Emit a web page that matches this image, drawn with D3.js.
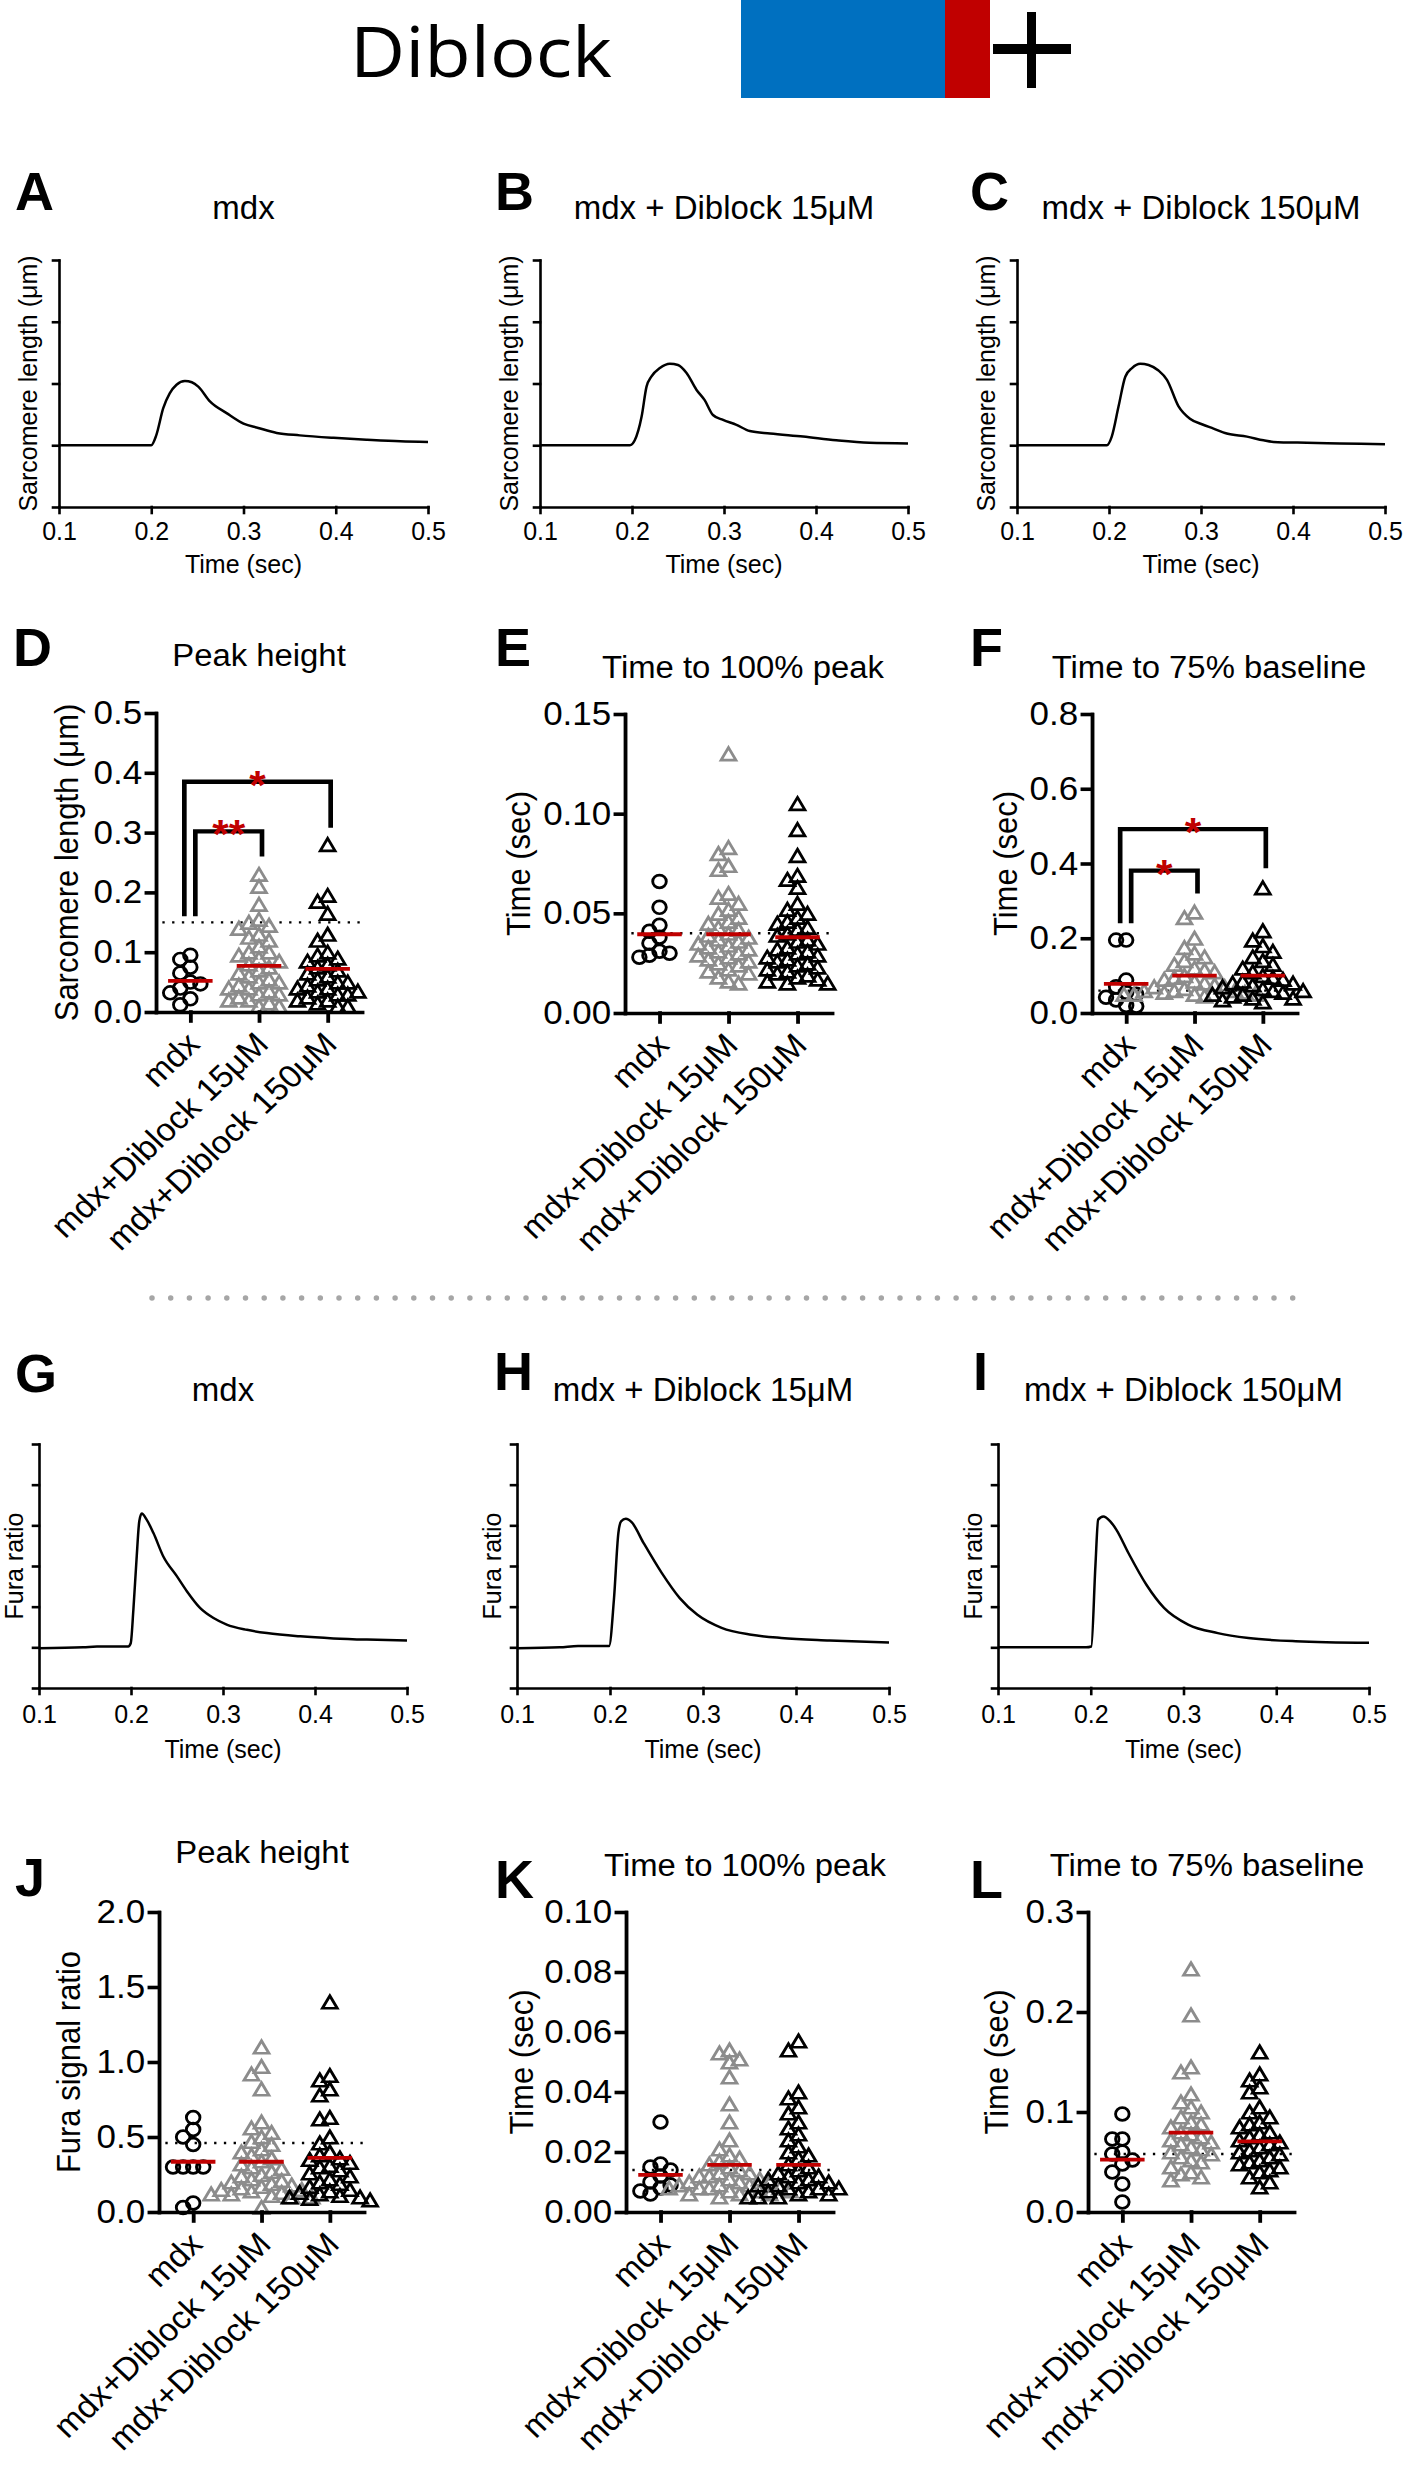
<!DOCTYPE html>
<html><head><meta charset="utf-8">
<script src="https://cdn.jsdelivr.net/npm/d3@7"></script>
<style>
body{margin:0;background:#fff}
svg text{font-family:"Liberation Sans",Arial,Helvetica,sans-serif;fill:#000}
</style>
</head><body>
<svg id="fig" width="1404" height="2480"></svg>
<script>
// ---------------- DATA ----------------
const timeTicks = [0.1, 0.2, 0.3, 0.4, 0.5];
const groups = ["mdx", "mdx+Diblock 15μM", "mdx+Diblock 150μM"];

// Sarcomere length traces (arbitrary units, one unit per y tick)
const traceA_t = [0.100,0.150,0.200,0.2054,0.213,0.220,0.2274,0.2365,0.244,0.251,0.2636,0.2817,0.300,0.316,0.336,0.361,0.3976,0.434,0.470,0.500];
const traceA_v = [1.00,1.00,1.00,1.16,1.60,1.84,1.98,2.04,2.02,1.95,1.71,1.52,1.35,1.28,1.20,1.16,1.12,1.09,1.065,1.054];
const traceB_t = [0.100,0.150,0.1977,0.203,0.2104,0.2158,0.221,0.2303,0.2412,0.250,0.2593,0.270,0.279,0.288,0.299,0.3136,0.328,0.350,0.386,0.422,0.458,0.500];
const traceB_v = [1.00,1.00,1.00,1.08,1.46,1.95,2.11,2.25,2.32,2.30,2.17,1.90,1.73,1.49,1.41,1.33,1.23,1.19,1.14,1.08,1.04,1.03];
const traceC_t = [0.100,0.150,0.1977,0.203,0.2104,0.2177,0.225,0.234,0.243,0.2538,0.263,0.2756,0.288,0.301,0.3136,0.328,0.350,0.368,0.3787,0.415,0.451,0.500];
const traceC_v = [1.00,1.00,1.00,1.14,1.63,2.11,2.25,2.32,2.30,2.21,2.06,1.63,1.43,1.34,1.27,1.19,1.14,1.08,1.054,1.04,1.03,1.016];
// Fura ratio traces
const traceG_t = [0.100,0.148,0.163,0.197,0.1997,0.2026,0.206,0.209,0.2117,0.217,0.2244,0.235,0.2498,0.2607,0.275,0.2897,0.304,0.326,0.3477,0.384,0.420,0.4565,0.500];
const traceG_v = [0.98,1.00,1.02,1.02,1.10,1.93,3.16,4.10,4.29,4.14,3.81,3.24,2.75,2.38,1.97,1.72,1.56,1.43,1.35,1.27,1.22,1.19,1.17];
const traceH_t = [0.100,0.146,0.1656,0.199,0.2042,0.209,0.2119,0.217,0.2235,0.236,0.2556,0.275,0.294,0.320,0.352,0.384,0.436,0.500];
const traceH_v = [0.98,1.00,1.03,1.03,2.17,3.81,4.10,4.16,4.07,3.57,2.83,2.21,1.80,1.48,1.31,1.23,1.17,1.12];
const traceI_t = [0.100,0.195,0.2006,0.205,0.208,0.2135,0.221,0.2277,0.2406,0.260,0.279,0.305,0.337,0.370,0.421,0.500];
const traceI_v = [1.00,1.00,1.02,2.99,4.14,4.22,4.10,3.89,3.32,2.54,1.97,1.56,1.35,1.23,1.15,1.11];

// D: sarcomere peak height (µm)
const peakSL_mdx = [0.095,0.088,0.075,0.065,0.050,0.047,0.040,0.032,0.022,0.012];
const peakSL_15  = [0.23,0.21,0.18,0.155,0.15,0.145,0.14,0.13,0.125,0.12,0.11,0.10,0.10,0.095,0.09,0.085,0.08,0.075,0.07,0.065,0.06,0.055,0.05,0.05,0.045,0.04,0.04,0.035,0.03,0.03,0.025,0.02,0.02,0.015,0.01,0.01];
const peakSL_150 = [0.28,0.195,0.185,0.165,0.13,0.12,0.10,0.095,0.09,0.085,0.08,0.075,0.07,0.065,0.06,0.055,0.05,0.05,0.045,0.04,0.04,0.035,0.035,0.03,0.03,0.025,0.02,0.02,0.015,0.01,0.01];
const peakSL_means = [0.052,0.077,0.072];
const peakSL_ref = 0.15;
const peakSL_ticks = [0,0.1,0.2,0.3,0.4,0.5];
const peakSL_sig = [{from:0,to:1,level:0.302,legL:0.16,legR:0.26,label:"**"},{from:0,to:2,level:0.385,legL:0.16,legR:0.308,label:"*"}];

// E: time to 100% peak (sec)
const ttpSL_mdx = [0.066,0.053,0.044,0.041,0.038,0.035,0.031,0.030,0.029,0.028];
const ttpSL_15  = [0.13,0.083,0.080,0.074,0.072,0.060,0.058,0.055,0.052,0.050,0.048,0.046,0.045,0.043,0.042,0.040,0.039,0.038,0.037,0.036,0.035,0.034,0.033,0.032,0.031,0.030,0.029,0.028,0.027,0.026,0.025,0.024,0.022,0.021,0.020,0.018,0.016,0.015];
const ttpSL_150 = [0.105,0.092,0.079,0.069,0.067,0.063,0.055,0.052,0.050,0.048,0.046,0.045,0.043,0.042,0.040,0.039,0.037,0.036,0.035,0.033,0.032,0.031,0.030,0.029,0.028,0.027,0.026,0.025,0.024,0.023,0.022,0.021,0.020,0.019,0.018,0.017,0.016,0.015,0.015];
const ttpSL_means = [0.0395,0.0395,0.038];
const ttpSL_ref = 0.040;
const ttpSL_ticks = [0,0.05,0.10,0.15];

// F: time to 75% baseline (sec)
const t75SL_mdx = [0.195,0.195,0.088,0.070,0.055,0.050,0.042,0.035,0.020,0.018];
const t75SL_15  = [0.27,0.255,0.20,0.175,0.16,0.15,0.14,0.13,0.12,0.115,0.11,0.10,0.095,0.09,0.085,0.08,0.075,0.07,0.07,0.065,0.06,0.06,0.06,0.055,0.055,0.05,0.05,0.05,0.05,0.045];
const t75SL_150 = [0.335,0.22,0.195,0.18,0.165,0.15,0.14,0.13,0.12,0.11,0.10,0.095,0.09,0.085,0.08,0.08,0.075,0.07,0.065,0.06,0.06,0.055,0.05,0.05,0.045,0.04,0.04,0.035,0.03];
const t75SL_means = [0.078,0.10,0.10];
const t75SL_ref = 0.06;
const t75SL_ticks = [0,0.2,0.4,0.6,0.8];
const t75SL_sig = [{from:0,to:1,level:0.381,legL:0.24,legR:0.32,label:"*"},{from:0,to:2,level:0.492,legL:0.24,legR:0.387,label:"*"}];

// J: Fura peak height
const peakCa_mdx = [0.63,0.55,0.50,0.45,0.30,0.30,0.30,0.30,0.06,0.03];
const peakCa_15  = [1.10,0.97,0.92,0.82,0.60,0.56,0.53,0.50,0.47,0.45,0.42,0.40,0.38,0.36,0.34,0.32,0.30,0.29,0.27,0.25,0.24,0.22,0.21,0.20,0.19,0.18,0.17,0.16,0.15,0.15,0.14,0.13,0.12,0.12,0.11,0.10,0.10,0.03];
const peakCa_150 = [1.40,0.91,0.88,0.82,0.78,0.63,0.62,0.50,0.46,0.40,0.38,0.36,0.35,0.33,0.31,0.30,0.28,0.26,0.24,0.22,0.20,0.19,0.17,0.15,0.14,0.13,0.12,0.11,0.10,0.10,0.09,0.08];
const peakCa_means = [0.335,0.335,0.361];
const peakCa_ref = 0.46;
const peakCa_ticks = [0,0.5,1.0,1.5,2.0];

// K: Fura time to 100% peak (sec)
const ttpCa_mdx = [0.030,0.016,0.015,0.014,0.012,0.010,0.009,0.008,0.007,0.006];
const ttpCa_15  = [0.054,0.053,0.051,0.050,0.045,0.036,0.030,0.024,0.021,0.019,0.018,0.017,0.016,0.015,0.014,0.013,0.013,0.012,0.012,0.011,0.011,0.010,0.010,0.010,0.009,0.009,0.009,0.008,0.008,0.008,0.008,0.007,0.007,0.007,0.006,0.006,0.006,0.005];
const ttpCa_150 = [0.057,0.054,0.040,0.038,0.035,0.033,0.030,0.028,0.026,0.024,0.022,0.020,0.019,0.018,0.016,0.015,0.014,0.013,0.012,0.012,0.011,0.011,0.010,0.010,0.009,0.009,0.008,0.008,0.008,0.007,0.007,0.006,0.006,0.005,0.005,0.005];
const ttpCa_means = [0.0124,0.0157,0.0157];
const ttpCa_ref = 0.014;
const ttpCa_ticks = [0,0.02,0.04,0.06,0.08,0.10];

// L: Fura time to 75% baseline (sec)
const t75Ca_mdx = [0.098,0.073,0.073,0.060,0.058,0.052,0.048,0.040,0.028,0.010];
const t75Ca_15  = [0.243,0.197,0.145,0.14,0.118,0.11,0.105,0.10,0.095,0.09,0.088,0.085,0.08,0.078,0.075,0.072,0.07,0.068,0.065,0.063,0.06,0.058,0.055,0.052,0.05,0.045,0.04,0.038,0.035,0.032];
const t75Ca_150 = [0.16,0.138,0.132,0.125,0.12,0.105,0.10,0.095,0.09,0.088,0.085,0.08,0.078,0.075,0.072,0.07,0.068,0.065,0.062,0.06,0.058,0.055,0.052,0.05,0.048,0.045,0.042,0.04,0.035,0.03,0.025];
const t75Ca_means = [0.0523,0.0794,0.0706];
const t75Ca_ref = 0.058;
const t75Ca_ticks = [0,0.1,0.2,0.3];

// ---------------- DRAWING ----------------
const svg = d3.select("#fig");
const RED = "#c00000", GRAY = "#8c8c8c", BLUE = "#0070c0";

// header
svg.append("text").attr("x", 612).attr("y", 77).attr("text-anchor", "end")
  .style("font-family", "'Open Sans', sans-serif").attr("font-size", 70)
  .attr("textLength", 262).attr("lengthAdjust", "spacingAndGlyphs").text("Diblock");
svg.append("rect").attr("x", 741).attr("y", 0).attr("width", 204).attr("height", 98).attr("fill", BLUE);
svg.append("rect").attr("x", 945).attr("y", 0).attr("width", 45).attr("height", 98).attr("fill", RED);
svg.append("rect").attr("x", 993).attr("y", 44).attr("width", 78).attr("height", 10).attr("fill", "#000");
svg.append("rect").attr("x", 1027).attr("y", 12).attr("width", 9).attr("height", 76).attr("fill", "#000");

function letter(t, x, y) {
  svg.append("text").attr("x", x).attr("y", y).attr("font-size", 54).attr("font-weight", "bold").text(t);
}

function tracePanel(L, t, v, yMax) {
  const x = d3.scaleLinear().domain([0.1, 0.5]).range([L.x0, L.x1]);
  const y = d3.scaleLinear().domain([0, yMax]).range([L.yBot, L.yTop]);
  const g = svg.append("g");
  const xa = g.append("g").attr("transform", `translate(0,${L.yBot})`)
    .call(d3.axisBottom(x).tickValues(timeTicks).tickFormat(d3.format(".1f")).tickSize(6).tickSizeOuter(0).tickPadding(L.tp));
  g.append("g").attr("transform", `translate(${L.x0},0)`)
    .call(d3.axisLeft(y).tickValues(d3.range(0, yMax + 1)).tickFormat("").tickSize(6).tickSizeOuter(0));
  g.selectAll(".domain,.tick line").attr("stroke", "#000").attr("stroke-width", 2.6).attr("stroke-linecap", "square");
  xa.selectAll("text").attr("font-size", 25).attr("fill", "#000").style("font-family", null);
  g.append("path").datum(t.map((d, i) => [d, v[i]]))
    .attr("fill", "none").attr("stroke", "#000").attr("stroke-width", 2.5).attr("stroke-linejoin", "round")
    .attr("d", d3.line().x(d => x(d[0])).y(d => y(d[1])).curve(d3.curveMonotoneX));
  const cx = (L.x0 + L.x1) / 2;
  g.append("text").attr("x", cx).attr("y", L.titleY).attr("text-anchor", "middle").attr("font-size", 33).text(L.title);
  g.append("text").attr("x", cx).attr("y", L.yBot + L.xtOff).attr("text-anchor", "middle").attr("font-size", 25).text("Time (sec)");
  g.append("text").attr("transform", `translate(${L.x0 - L.ylOff},${(L.yTop + L.yBot) / 2}) rotate(-90)`)
    .attr("dy", "0.36em").attr("text-anchor", "middle").attr("font-size", 25).text(L.ylabel);
  letter(L.letter, L.lx, L.ly);
}

function swarm(vals, cx, y, step, hgap) {
  const placed = [];
  vals.slice().sort((a, b) => b - a).forEach(v => {
    const py = y(v);
    for (let k = 0; k < 60; k++) {
      const off = (k === 0 ? 0 : (k % 2 ? -1 : 1) * Math.ceil(k / 2)) * step;
      const px = cx + off;
      if (!placed.some(p => Math.abs(p.x - px) < step * 0.99 && Math.abs(p.y - py) < hgap)) {
        placed.push({x: px, y: py}); break;
      }
    }
  });
  return placed;
}

const SX = 1.06;
function scatterPanel(L, series, means, ref, ticks, fmt, sig) {
  const g = svg.append("g").attr("transform", `translate(${L.x0},0) scale(${SX},1)`);
  const W = (L.x1 - L.x0) / SX;
  const x = d3.scalePoint().domain(groups).range([0, W]).padding(0.5);
  const y = d3.scaleLinear().domain([0, ticks[ticks.length - 1]]).range([L.yBot, L.yTop]);

  g.append("line").attr("x1", 6).attr("x2", W - 1).attr("y1", y(ref)).attr("y2", y(ref))
    .attr("stroke", "#000").attr("stroke-width", 2.3).attr("stroke-dasharray", "2.2,7");

  const tw = 14, th = 12.5;
  series.forEach((vals, i) => {
    const pts = swarm(vals, x(groups[i]), y, 9.5, 11.5);
    const col = i === 1 ? GRAY : "#000";
    if (i === 0) {
      g.append("g").selectAll("circle").data(pts).join("circle")
        .attr("cx", d => d.x).attr("cy", d => d.y).attr("r", 6.4)
        .attr("fill", "none").attr("stroke", col).attr("stroke-width", 2.7);
    } else {
      g.append("g").selectAll("path").data(pts).join("path")
        .attr("d", d => `M${d.x},${d.y - th / 2}L${d.x + tw / 2},${d.y + th / 2}L${d.x - tw / 2},${d.y + th / 2}Z`)
        .attr("fill", "none").attr("stroke", col).attr("stroke-width", 2.7).attr("stroke-linejoin", "miter");
    }
  });
  g.append("g").selectAll("line").data(means).join("line")
    .attr("x1", (d, i) => x(groups[i]) - 21).attr("x2", (d, i) => x(groups[i]) + 21)
    .attr("y1", d => y(d)).attr("y2", d => y(d)).attr("stroke", RED).attr("stroke-width", 3.8);

  const ya = g.append("g").call(d3.axisLeft(y).tickValues(ticks).tickFormat(d3.format(fmt)).tickSize(9).tickPadding(4).tickSizeOuter(0));
  const xa = g.append("g").attr("transform", `translate(0,${L.yBot})`).call(d3.axisBottom(x).tickSize(9).tickSizeOuter(0));
  g.selectAll(".domain,.tick line").attr("stroke", "#000").attr("stroke-width", 3.6).attr("stroke-linecap", "square");
  ya.selectAll("text").attr("font-size", 33).attr("fill", "#000");
  xa.selectAll("text").attr("x", 0).attr("y", 0).attr("dy", 0).attr("text-anchor", "end")
    .attr("transform", "translate(10,34) rotate(-45)").attr("font-size", 32).attr("fill", "#000");

  if (sig) {
    const offL = [5 / SX, -6 / SX];
    sig.forEach((s, i) => {
      const xl = x(groups[s.from]) + offL[i], xr = x(groups[s.to]) + 3 / SX;
      g.append("path").attr("d", `M${xl},${y(s.legL)}V${y(s.level)}H${xr}V${y(s.legR)}`)
        .attr("fill", "none").attr("stroke", "#000").attr("stroke-width", 4.4);
      g.append("text").attr("x", (xl + xr) / 2).attr("y", y(s.level) + 17).attr("text-anchor", "middle")
        .attr("font-size", 40).attr("font-weight", "bold").style("fill", RED).text(s.label);
    });
  }
  g.append("text").attr("x", (L.tcx - L.x0) / SX).attr("y", L.titleY).attr("text-anchor", "middle").attr("font-size", 31).text(L.title);
  g.append("text").attr("transform", `translate(${(L.ylx - L.x0) / SX},${(L.yTop + L.yBot) / 2}) rotate(-90)`)
    .attr("dy", "0.36em").attr("text-anchor", "middle").attr("font-size", 31).text(L.ylabel);
  letter(L.letter, L.lx, L.ly);
}

// ---- layout ----
const topY = {yTop: 260, yBot: 507, tp: 9, xtOff: 66, titleY: 219, ylOff: 31};
tracePanel(Object.assign({x0: 59, x1: 428, title: "mdx", ylabel: "Sarcomere length (μm)", letter: "A", lx: 15, ly: 210}, topY), traceA_t, traceA_v, 4);
tracePanel(Object.assign({x0: 540, x1: 908, title: "mdx + Diblock 15μM", ylabel: "Sarcomere length (μm)", letter: "B", lx: 495, ly: 210}, topY), traceB_t, traceB_v, 4);
tracePanel(Object.assign({x0: 1017, x1: 1385, title: "mdx + Diblock 150μM", ylabel: "Sarcomere length (μm)", letter: "C", lx: 970, ly: 210}, topY), traceC_t, traceC_v, 4);

const midY = {yTop: 1444, yBot: 1688, tp: 11, xtOff: 70, titleY: 1401, ylOff: 25};
tracePanel(Object.assign({x0: 39, x1: 407, title: "mdx", ylabel: "Fura ratio", letter: "G", lx: 15, ly: 1392}, midY), traceG_t, traceG_v, 6);
tracePanel(Object.assign({x0: 517, x1: 889, title: "mdx + Diblock 15μM", ylabel: "Fura ratio", letter: "H", lx: 494, ly: 1390}, midY), traceH_t, traceH_v, 6);
tracePanel(Object.assign({x0: 998, x1: 1369, title: "mdx + Diblock 150μM", ylabel: "Fura ratio", letter: "I", lx: 973, ly: 1390}, midY), traceI_t, traceI_v, 6);

scatterPanel({x0: 156, x1: 362, yTop: 713, yBot: 1012, tcx: 259, titleY: 666, title: "Peak height", ylx: 66, ylabel: "Sarcomere length (μm)", letter: "D", lx: 13, ly: 666},
  [peakSL_mdx, peakSL_15, peakSL_150], peakSL_means, peakSL_ref, peakSL_ticks, ".1f", peakSL_sig);
scatterPanel({x0: 625, x1: 832, yTop: 714, yBot: 1013, tcx: 743, titleY: 678, title: "Time to 100% peak", ylx: 518, ylabel: "Time (sec)", letter: "E", lx: 495, ly: 666},
  [ttpSL_mdx, ttpSL_15, ttpSL_150], ttpSL_means, ttpSL_ref, ttpSL_ticks, ".2f", null);
scatterPanel({x0: 1092, x1: 1297, yTop: 714, yBot: 1013, tcx: 1209, titleY: 678, title: "Time to 75% baseline", ylx: 1005, ylabel: "Time (sec)", letter: "F", lx: 970, ly: 666},
  [t75SL_mdx, t75SL_15, t75SL_150], t75SL_means, t75SL_ref, t75SL_ticks, ".1f", t75SL_sig);

scatterPanel({x0: 159, x1: 364, yTop: 1912, yBot: 2212, tcx: 262, titleY: 1863, title: "Peak height", ylx: 68, ylabel: "Fura signal ratio", letter: "J", lx: 15, ly: 1896},
  [peakCa_mdx, peakCa_15, peakCa_150], peakCa_means, peakCa_ref, peakCa_ticks, ".1f", null);
scatterPanel({x0: 626, x1: 833, yTop: 1912, yBot: 2212, tcx: 745, titleY: 1876, title: "Time to 100% peak", ylx: 521, ylabel: "Time (sec)", letter: "K", lx: 495, ly: 1898},
  [ttpCa_mdx, ttpCa_15, ttpCa_150], ttpCa_means, ttpCa_ref, ttpCa_ticks, ".2f", null);
scatterPanel({x0: 1088, x1: 1294, yTop: 1912, yBot: 2212, tcx: 1207, titleY: 1876, title: "Time to 75% baseline", ylx: 996, ylabel: "Time (sec)", letter: "L", lx: 970, ly: 1898},
  [t75Ca_mdx, t75Ca_15, t75Ca_150], t75Ca_means, t75Ca_ref, t75Ca_ticks, ".1f", null);

// separator
svg.append("line").attr("x1", 152).attr("x2", 1300).attr("y1", 1298).attr("y2", 1298)
  .attr("stroke", "#a6a6a6").attr("stroke-width", 5.5).attr("stroke-linecap", "round").attr("stroke-dasharray", "0,18.7");
</script>
</body></html>
